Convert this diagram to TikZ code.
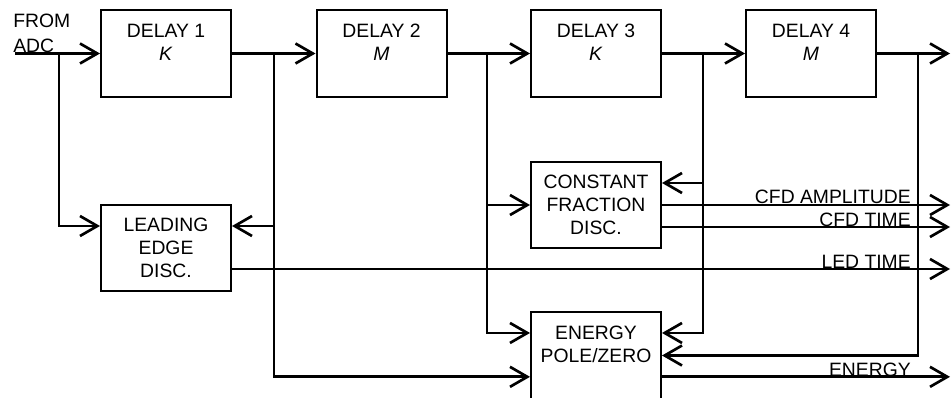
\documentclass[tikz,border=0pt]{standalone}
\usepackage{fontspec}
\setmainfont{Liberation Sans}
\usetikzlibrary{arrows.meta,positioning}

\begin{document}
\begin{tikzpicture}[x=0.75pt, y=-0.75pt, >={Straight Barb[length=13pt,width=15pt]},
  every node/.style={font=\fontsize{14.5}{17}\selectfont},
  blk/.style={draw, line width=1.5pt, minimum width=97.5pt, minimum height=65pt, align=center, inner sep=0pt},
  sig/.style={line width=2pt},
  lbl/.style={anchor=base east, inner sep=0pt}]
  \useasboundingbox (0,0) rectangle (952,398);

  % delay chain
  \node[blk] (dly1) at (166,53.5) {DELAY 1\\\textit{K}\\\mbox{}};
  \node[blk] (dly2) at (381.5,53.5) {DELAY 2\\\textit{M}\\\mbox{}};
  \node[blk] (dly3) at (596,53.5) {DELAY 3\\\textit{K}\\\mbox{}};
  \node[blk] (dly4) at (811,53.5) {DELAY 4\\\textit{M}\\\mbox{}};

  % discriminators and energy filter
  \node[blk] (led) at (166,248) {LEADING\\EDGE\\DISC.};
  \node[blk] (cfd) at (596,205) {CONSTANT\\FRACTION\\DISC.};
  \node[blk] (enr) at (596,355.5) {ENERGY\\POLE/ZERO\\\mbox{}};

  \node[anchor=south west, inner sep=0pt, align=left, font=\fontsize{14.5}{18.5}\selectfont] (src) at (13,52.5) {FROM\\ADC};

  \coordinate (adc) at (15,53.5);
  \coordinate (j1) at (59,53.5);
  \coordinate (j2) at (274,53.5);
  \coordinate (j3) at (487,53.5);
  \coordinate (j4) at (703,53.5);
  \coordinate (j5) at (918,53.5);
  \coordinate (out) at (950,53.5);

  \draw[sig,->] (adc) -- (dly1);
  \draw[sig,->] (dly1) -- (dly2);
  \draw[sig,->] (dly2) -- (dly3);
  \draw[sig,->] (dly3) -- (dly4);
  \draw[sig,->] (dly4) -- (out);

  % taps
  \draw[sig,->] (j1) |- ([yshift=16.5pt]led.west);
  \draw[sig,->] (j2) |- ([yshift=16.5pt]led.east);
  \draw[sig,->] (j2) |- ([yshift=-16pt]enr.west);
  \draw[sig,->] (j3) |- (cfd.west);
  \draw[sig,->] (j3) |- ([yshift=16.9pt]enr.west);
  \draw[sig,->] (j4) |- ([yshift=16.5pt]cfd.east);
  \draw[sig,->] (j4) |- ([yshift=16.9pt]enr.east);
  \draw[sig,->] (j5) |- (enr.east);

  % outputs
  \draw[sig,->] (cfd.east) -- (cfd.east -| out);
  \draw[sig,->] ([yshift=-16.5pt]cfd.east) coordinate (ct) -- (ct -| out);
  \draw[sig,->] ([yshift=-15.75pt]led.east) coordinate (lt) -- (lt -| out);
  \draw[sig,->] ([yshift=-16pt]enr.east) coordinate (et) -- (et -| out);

  \node[lbl] (ampl) at (911,204) {CFD AMPLITUDE};
  \node[lbl] (ctime) at (911,227) {CFD TIME};
  \node[lbl] (ltime) at (911,269) {LED TIME};
  \node[lbl] (energy) at (911,377) {ENERGY};
\end{tikzpicture}
\end{document}
